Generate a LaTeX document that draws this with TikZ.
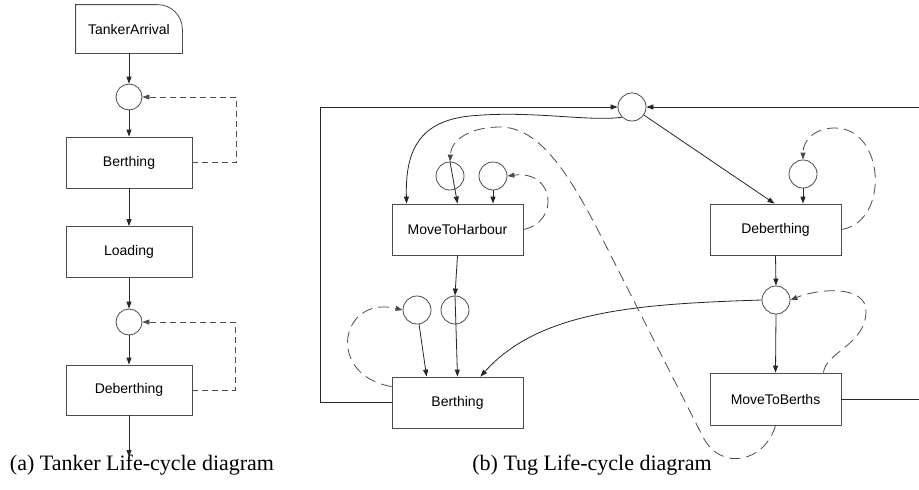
\documentclass[tikz,border=0pt]{standalone}
\usepackage{fontspec}
\setmainfont{Liberation Serif}
\newfontfamily\arialf{Liberation Sans}
\usetikzlibrary{arrows.meta,calc}
\begin{document}
\begin{tikzpicture}[x=1pt,y=-1pt,
  line width=0.8pt, draw=black!85,
  box/.style={draw=black!70, minimum width=126pt, minimum height=51pt, inner sep=0pt, font=\arialf\fontsize{14}{16}\selectfont},
  boxb/.style={box, minimum width=131pt},
  junc/.style={circle, draw=black!70, minimum size=26pt, inner sep=0pt},
  juncb/.style={junc, minimum size=28pt},
  arr/.style={-{Triangle[length=7pt,width=5pt]}},
  dsa/.style={dash pattern=on 6pt off 4pt, draw=black!70},
  dsb/.style={dash pattern=on 11pt off 6pt, draw=black!70},
  captxt/.style={font=\fontsize{22}{24}\selectfont, anchor=base, inner sep=0pt}
]
\useasboundingbox[fill=white] (0,0) rectangle (919,490);

% ---------- panel (a)
\node[box, draw=none, minimum width=106pt, minimum height=48pt] (ta) at (129,29) {TankerArrival};
\draw[black!70] (ta.south west) -- (ta.north west) -- ($(ta.north east)+(-25,0)$)
  .. controls ($(ta.north east)+(-11,0)$) and ($(ta.north east)+(0,11)$) .. ($(ta.north east)+(0,25)$)
  -- (ta.south east) -- cycle;
\node[junc] (j1) at (129,97) {};
\node[box] (b1) at (129,162.5) {Berthing};
\node[box] (l1) at (129,252) {Loading};
\node[junc] (j2) at (129,322) {};
\node[box, minimum height=50pt] (d1) at (129,390) {Deberthing};
\coordinate (aend) at (129,457);

\draw[arr] (ta.south) -- (j1.north);
\draw[arr] (j1.south) -- (b1.north);
\draw[arr] (b1.south) -- (l1.north);
\draw[arr] (l1.south) -- (j2.north);
\draw[arr] (j2.south) -- (d1.north);
\draw[arr] (d1.south) -- (aend);
\draw[dsa, arr] (b1.east) -- ++(44,0) |- (j1.east);
\draw[dsa, arr] (d1.east) -- ++(43,0) |- (j2.east);

\node[captxt] (capa) at (142,470) {(a) Tanker Life-cycle diagram};

% ---------- panel (b)
\node[juncb] (tc) at (632,107) {};
\node[boxb] (mth) at (457.5,229.5) {MoveToHarbour};
\node[juncb] (ja) at (450,176) {};
\node[juncb] (jb) at (493,176) {};
\node[boxb] (deb) at (775.5,229.5) {Deberthing};
\node[juncb] (jd) at (803,174) {};
\node[juncb] (jc) at (776,300) {};
\node[boxb, minimum height=52pt] (mtb) at (775.5,399) {MoveToBerths};
\node[boxb] (brb) at (457.5,402.5) {Berthing};
\node[juncb] (je) at (455,310) {};
\node[juncb] (jdd) at (417,310) {};
\coordinate (rtop) at (919,107);
\coordinate (rbot) at (919,399);

\draw[arr] (brb.west) -- ++(-71,0) |- (tc.west);
\draw[arr] (rtop) -- (tc.east);
\draw (mtb.east) -- (rbot);
\draw[arr] (tc) -- ($(deb.north)+(-1,0)$);
\draw[arr] (tc.south west) .. controls (590,122) and (530,110) .. (470,116)
  .. controls (420,121) and (405,150) .. ($(mth.north west)+(15,0)$);
\draw[arr] (ja.north) -- (mth.north);
\draw[arr] (jb.south) -- (jb |- mth.north);
\draw[dsb, arr] (mth.east) .. controls (560,222) and (555,170) .. (jb.east);
\draw[dsb, arr] (mtb.south) .. controls (765,462) and (721,472) .. (703,437)
  -- (603,240) .. controls (570,175) and (540,127) .. (500,127)
  .. controls (470,127) and (451,140) .. (ja.north);
\draw[arr] (mth.south) -- (je.north);
\draw[arr] (je.north) -- (brb.north);
\draw[arr] (jdd) -- ($(brb.north west)+(35,0)$);
\draw[dsb, arr] ($(brb.north west)+(0,10)$) .. controls (325,375) and (340,295) .. (jdd.west);
\draw[arr] (jc.west) .. controls (640,304) and (540,310) .. ($(brb.north east)+(-43,0)$);
\draw[arr] (deb.south) -- (jc.north);
\draw[arr] (jc.south) -- (mtb.north);
\draw[dsb, arr] (deb.east) .. controls (890,222) and (885,128) .. (835,128)
  .. controls (815,128) and (803,140) .. (jd.north);
\draw[arr] (jd.south) -- (jd |- deb.north);
\draw[dsb, arr] ($(mtb.north east)+(-18,0)$) .. controls (826,352) and (865,345) .. (866,312)
  .. controls (867,285) and (820,288) .. (jc.east);

\node[captxt] (capb) at (592,470) {(b) Tug Life-cycle diagram};
\end{tikzpicture}
\end{document}
